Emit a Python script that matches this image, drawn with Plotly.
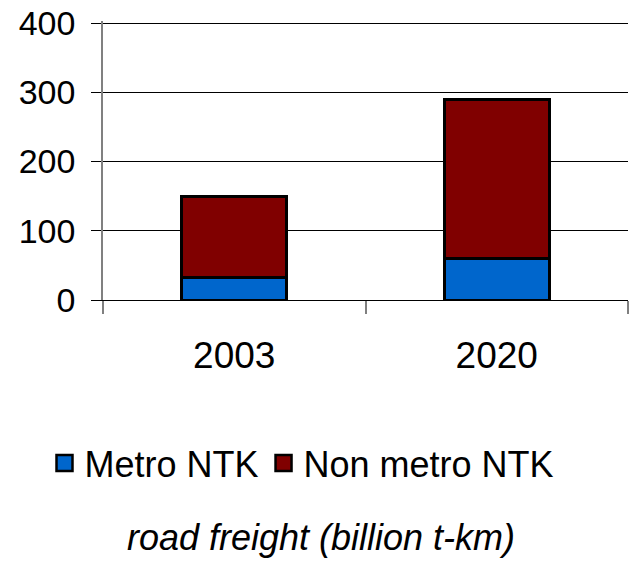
import plotly.graph_objects as go

years = ["2003", "2020"]
metro_ntk = [32, 60]
non_metro_ntk = [118, 230]
series_names = ["Metro NTK", "Non metro NTK"]
series_colors = ["#0066CC", "#800000"]
y_ticks = [0, 100, 200, 300, 400]
caption = "road freight (billion t-km)"

W, H = 629, 568

fig = go.Figure()
for name, vals, col in zip(series_names, [metro_ntk, non_metro_ntk], series_colors):
    fig.add_trace(go.Bar(x=years, y=vals, name=name, showlegend=False,
                         marker=dict(color=col, line=dict(color="black", width=3))))
    # legend proxy with larger square symbol
    fig.add_trace(go.Scatter(x=[None], y=[None], mode="markers", name=name,
                             marker=dict(symbol="square", size=16, color=col,
                                         line=dict(color="black", width=2.5))))

fig.update_layout(
    width=W, height=H,
    margin=dict(l=103, r=1, t=21, b=268, autoexpand=False),
    barmode="stack", bargap=0.6,
    plot_bgcolor="white", paper_bgcolor="white",
    font=dict(family="Liberation Sans, Arial, sans-serif", color="black"),
    showlegend=True,
    legend=dict(orientation="h", xref="container", yref="container",
                x=302 / W, xanchor="center", y=1 - 463 / H, yanchor="middle",
                font=dict(size=36, family="Liberation Sans, Arial, sans-serif"),
                itemsizing="trace", tracegroupgap=0, itemwidth=30,
                traceorder="normal"),
    title=dict(text=caption, xref="container", yref="container",
               x=321 / W, xanchor="center", y=1 - 537 / H, yanchor="middle",
               font=dict(size=36, style="italic",
                         family="Liberation Sans, Arial, sans-serif")),
)
fig.update_xaxes(type="category", showline=True, linecolor="black", linewidth=1,
                 ticks="outside", tickson="boundaries", ticklen=13, tickcolor="#808080",
                 tickwidth=1.5, tickfont=dict(size=37), showgrid=False,
                 ticklabelstandoff=23, automargin=False)
fig.update_yaxes(range=[0, 403], tickvals=y_ticks, showline=True, linecolor="#808080",
                 linewidth=1.5, ticks="outside", ticklen=10, tickcolor="black",
                 showgrid=True, gridcolor="black", gridwidth=1, zeroline=False,
                 tickfont=dict(size=34), ticklabelstandoff=9, automargin=False,
                 ticklabeloverflow="allow")

fig.write_html("out.html", config={"displayModeBar": False},
               post_script="document.body.style.margin='0';document.body.style.overflow='hidden';")
